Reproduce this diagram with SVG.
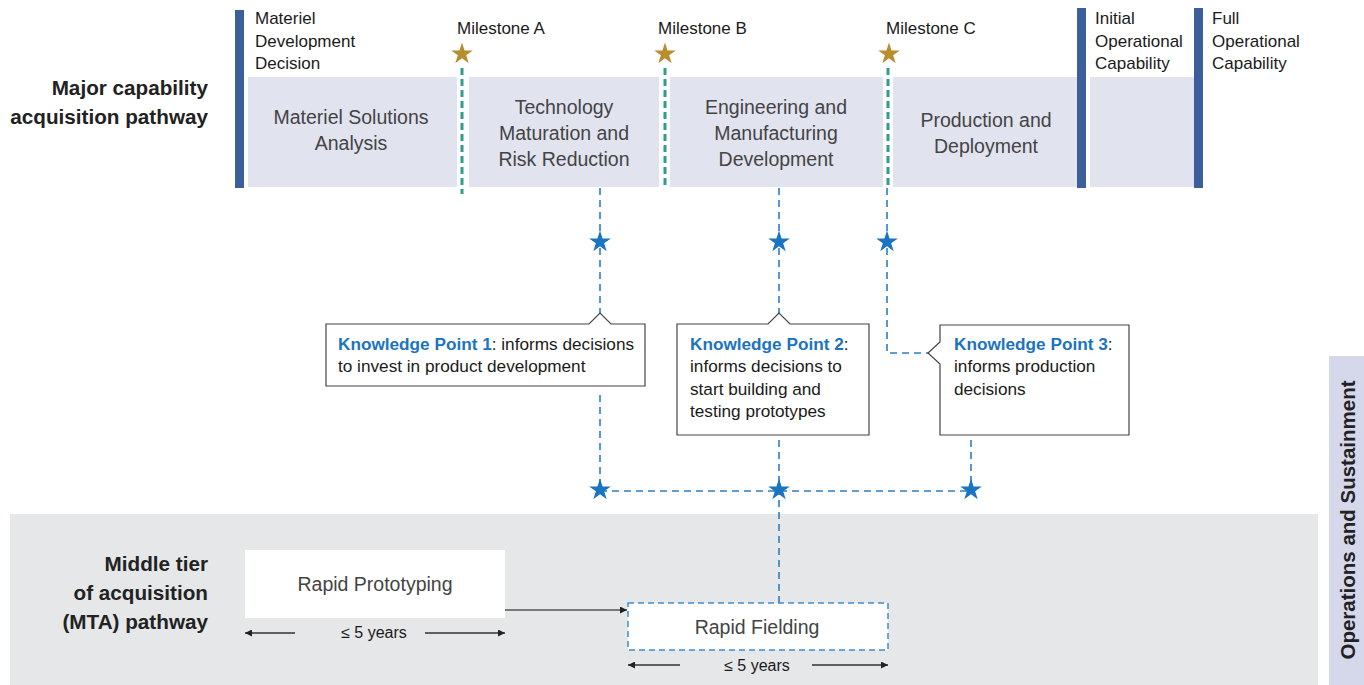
<svg xmlns="http://www.w3.org/2000/svg" width="1364" height="685" viewBox="0 0 1364 685">
<style>
text{font-family:"Liberation Sans",Arial,sans-serif;}
.lbl{font-size:17px;fill:#1a1a1a;}
.yr{font-size:16px;fill:#1a1a1a;text-anchor:middle;}
.phase{font-size:19.5px;fill:#444;text-anchor:middle;}
.side{font-size:20.7px;font-weight:bold;fill:#222;text-anchor:end;}
.kp{font-size:17.2px;fill:#1a1a1a;}
.kpb{font-weight:bold;fill:#1b74c0;}
.phbox{fill:#e1e3ef;}
.bar{fill:#3a5f9a;}
.teal{stroke:#2e9e8e;stroke-width:3;stroke-dasharray:7 4;fill:none;}
.blue{stroke:#2b7fc6;stroke-width:1.6;stroke-dasharray:7 5;fill:none;}
.call{fill:#fff;stroke:#444;stroke-width:1.2;}
.arr{stroke:#333;stroke-width:1.3;fill:none;}
</style>
<defs>
<path id="star" d="M0,-12 L2.70,-3.71 L11.41,-3.71 L4.37,1.42 L7.05,9.71 L0,4.59 L-7.05,9.71 L-4.37,1.42 L-11.41,-3.71 L-2.70,-3.71 Z"/>
<marker id="ah" viewBox="0 0 10 10" refX="10" refY="5" markerWidth="7" markerHeight="7" markerUnits="userSpaceOnUse" orient="auto-start-reverse">
<path d="M0,0 L10,5 L0,10 Z" fill="#222"/>
</marker>
</defs>
<rect width="1364" height="685" fill="#fff"/>

<g id="mta-band"><rect x="10" y="514" width="1308" height="171" fill="#e6e7e9"/></g>
<g id="ops-sustainment">
<rect x="1329" y="356" width="35" height="329" fill="#d5d7ea"/>
<text transform="translate(1355,520) rotate(-90)" font-size="20.5" font-weight="bold" fill="#222" text-anchor="middle">Operations and Sustainment</text>
</g>

<g id="label-major"><text class="side" x="208" y="95">Major capability</text><text class="side" x="208" y="124">acquisition pathway</text></g>
<g id="label-mta"><text class="side" x="208" y="571">Middle tier</text><text class="side" x="208" y="600">of acquisition</text><text class="side" x="208" y="629">(MTA) pathway</text></g>

<g id="phase-msa"><rect class="phbox" x="248" y="77" width="209" height="110"/><text class="phase" x="351" y="124">Materiel Solutions</text><text class="phase" x="351" y="150">Analysis</text></g>
<g id="phase-tmrr"><rect class="phbox" x="469" y="77" width="190" height="110"/><text class="phase" x="564" y="114">Technology</text><text class="phase" x="564" y="140">Maturation and</text><text class="phase" x="564" y="166">Risk Reduction</text></g>
<g id="phase-emd"><rect class="phbox" x="670" y="77" width="213" height="110"/><text class="phase" x="776" y="114">Engineering and</text><text class="phase" x="776" y="140">Manufacturing</text><text class="phase" x="776" y="166">Development</text></g>
<g id="phase-pd"><rect class="phbox" x="893" y="77" width="184" height="110"/><text class="phase" x="986" y="127">Production and</text><text class="phase" x="986" y="153">Deployment</text></g>
<g id="phase-os"><rect class="phbox" x="1090" y="77" width="104" height="110"/></g>

<g id="mdd"><rect class="bar" x="235" y="10" width="9" height="178"/><text class="lbl" x="255" y="24">Materiel</text><text class="lbl" x="255" y="47">Development</text><text class="lbl" x="255" y="69">Decision</text></g>
<g id="ioc"><rect class="bar" x="1077" y="8" width="9" height="180"/><text class="lbl" x="1095" y="24">Initial</text><text class="lbl" x="1095" y="47">Operational</text><text class="lbl" x="1095" y="69">Capability</text></g>
<g id="foc"><rect class="bar" x="1194" y="8" width="9" height="180"/><text class="lbl" x="1212" y="24">Full</text><text class="lbl" x="1212" y="47">Operational</text><text class="lbl" x="1212" y="69">Capability</text></g>

<g id="milestone-a" fill="#b68d2f"><text class="lbl" x="457" y="34">Milestone A</text><use href="#star" transform="translate(462 54) scale(0.95)"/></g>
<g id="milestone-b" fill="#b68d2f"><text class="lbl" x="658" y="34">Milestone B</text><use href="#star" transform="translate(665 54) scale(0.95)"/></g>
<g id="milestone-c" fill="#b68d2f"><text class="lbl" x="886" y="34">Milestone C</text><use href="#star" transform="translate(889 54) scale(0.95)"/></g>

<g id="connectors">
<path class="teal" d="M462,68 V194"/>
<path class="teal" d="M665,68 V188"/>
<path class="teal" d="M888,68 V188"/>
<path class="blue" d="M600,188 V313"/>
<path class="blue" d="M779,188 V313"/>
<path class="blue" d="M887,188 V353 H928"/>
<path class="blue" d="M600,395 V490"/>
<path class="blue" d="M779,440 V603"/>
<path class="blue" d="M971,440 V490"/>
<path class="blue" d="M600,491 H971"/>
<path d="M505,610 H627" stroke="#555" stroke-width="1.3" fill="none" marker-end="url(#ah)"/>
<path class="arr" d="M295,633 H245" marker-end="url(#ah)"/>
<path class="arr" d="M425,633 H505" marker-end="url(#ah)"/>
<path class="arr" d="M680,665 H628" marker-end="url(#ah)"/>
<path class="arr" d="M812,665 H888" marker-end="url(#ah)"/>
</g>

<g id="stars-blue" fill="#1b74c0">
<use href="#star" transform="translate(600 242) scale(0.95)"/>
<use href="#star" transform="translate(779 242) scale(0.95)"/>
<use href="#star" transform="translate(887 242) scale(0.95)"/>
<use href="#star" transform="translate(600 490) scale(0.95)"/>
<use href="#star" transform="translate(779 490) scale(0.95)"/>
<use href="#star" transform="translate(971 490) scale(0.95)"/>
</g>

<g id="kp1"><path class="call" d="M326,324 L589,324 L600,313 L611,324 L645,324 L645,386 L326,386 Z"/>
<text class="kp" x="338" y="350"><tspan class="kpb">Knowledge Point 1</tspan>: informs decisions</text>
<text class="kp" x="338" y="372">to invest in product development</text></g>
<g id="kp2"><path class="call" d="M677,324 L768,324 L779,313 L790,324 L869,324 L869,435 L677,435 Z"/>
<text class="kp" x="690" y="350"><tspan class="kpb">Knowledge Point 2</tspan>:</text>
<text class="kp" x="690" y="372">informs decisions to</text>
<text class="kp" x="690" y="395">start building and</text>
<text class="kp" x="690" y="417">testing prototypes</text></g>
<g id="kp3"><path class="call" d="M940,325 L1129,325 L1129,435 L940,435 L940,364 L928,353 L940,342 Z"/>
<text class="kp" x="954" y="350"><tspan class="kpb">Knowledge Point 3</tspan>:</text>
<text class="kp" x="954" y="372">informs production</text>
<text class="kp" x="954" y="395">decisions</text></g>

<g id="rapid-prototyping"><rect x="245" y="550" width="260" height="68" fill="#fff"/><text class="phase" x="375" y="591">Rapid Prototyping</text>
<text class="yr" x="374" y="638">≤ 5 years</text></g>
<g id="rapid-fielding"><rect x="628" y="603" width="260" height="47" fill="#fff" stroke="#3d8fd0" stroke-width="1.5" stroke-dasharray="6 4"/><text class="phase" x="757" y="634">Rapid Fielding</text>
<text class="yr" x="757" y="671">≤ 5 years</text></g>
</svg>
